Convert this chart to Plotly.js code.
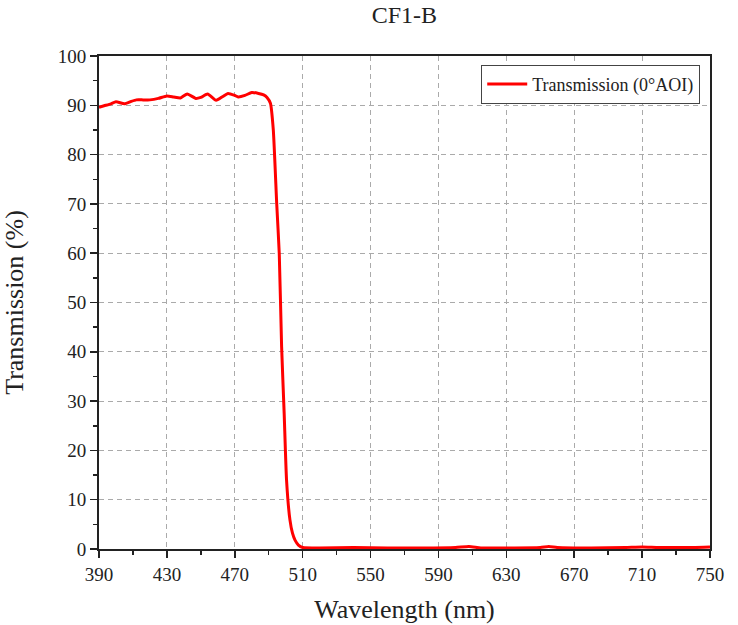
<!DOCTYPE html>
<html>
<head>
<meta charset="utf-8">
<script src="https://cdn.plot.ly/plotly-3.0.1.min.js"></script>
<style>
  html, body { margin: 0; padding: 0; background: #fff; }
  #chart { width: 738px; height: 625px; }
</style>
</head>
<body>
<div id="chart"></div>
<script>
// wavelength (nm) and transmission (%)
var wavelength = [390, 393, 397, 400, 405, 409, 412, 416, 420, 425, 430, 434, 438, 442, 447,
  450, 454, 459, 463, 466, 470, 472, 476, 480, 484, 487, 489, 491, 492.7, 494.7, 496.2,
  497.6, 499.1, 500.5, 502.5, 504, 505.5, 507.5, 510, 520, 540, 560, 580, 600, 608, 615,
  630, 650, 655, 660, 680, 700, 710, 720, 740, 750];
var transmission = [89.6, 89.9, 90.3, 90.7, 90.3, 90.8, 91.1, 91.1, 91.1, 91.4, 91.9, 91.7, 91.5, 92.3, 91.4,
  91.6, 92.3, 91.0, 91.8, 92.4, 92.0, 91.7, 92.0, 92.6, 92.4, 92.1, 91.6, 90.4, 85, 70.1, 60,
  41, 27.5, 14, 5.9, 3.2, 1.8, 0.8, 0.3, 0.2, 0.3, 0.2, 0.2, 0.3, 0.5, 0.2,
  0.2, 0.3, 0.5, 0.3, 0.2, 0.3, 0.4, 0.3, 0.3, 0.4];
var xTicks = [390, 430, 470, 510, 550, 590, 630, 670, 710, 750];

var serif = "Liberation Serif, Times New Roman, serif";

var data = [{
  x: wavelength,
  y: transmission,
  type: "scatter",
  mode: "lines",
  name: "Transmission (0°AOI)",
  line: { color: "#ff0000", width: 3, shape: "spline", smoothing: 0.5 }
}];

var layout = {
  width: 738,
  height: 625,
  margin: { l: 99, r: 28, t: 56, b: 76 },
  paper_bgcolor: "#fff",
  plot_bgcolor: "#fff",
  font: { family: serif, color: "#222", size: 19 },
  title: { text: "CF1-B", font: { family: serif, size: 24, color: "#222" },
    x: 0.548, xanchor: "center", y: 0.976, yanchor: "middle" },
  showlegend: true,
  legend: {
    x: 0.984, xanchor: "right", y: 0.982, yanchor: "top",
    bordercolor: "#444", borderwidth: 1, bgcolor: "#fff",
    itemwidth: 40,
    font: { family: serif, size: 18, color: "#222" }
  },
  xaxis: {
    range: [390, 750],
    tickvals: xTicks,
    ticks: "outside", ticklen: 7, tickwidth: 1.5, tickcolor: "#222",
    minor: { dtick: 20, tick0: 390, ticks: "outside", ticklen: 4, tickwidth: 1.5, tickcolor: "#222", showgrid: false },
    showline: true, linecolor: "#222", linewidth: 2, mirror: true,
    showgrid: true, gridcolor: "#aaa", griddash: "5px,4px", gridwidth: 1,
    zeroline: false,
    tickfont: { family: serif, size: 19, color: "#222" },
    title: { text: "Wavelength (nm)", font: { family: serif, size: 26, color: "#222" }, standoff: 16 }
  },
  yaxis: {
    range: [0, 100],
    dtick: 10,
    ticks: "outside", ticklen: 7, tickwidth: 1.5, tickcolor: "#222",
    minor: { dtick: 5, ticks: "outside", ticklen: 4, tickwidth: 1.5, tickcolor: "#222", showgrid: false },
    showline: true, linecolor: "#222", linewidth: 2, mirror: true,
    showgrid: true, gridcolor: "#aaa", griddash: "5px,4px", gridwidth: 1,
    zeroline: false,
    tickfont: { family: serif, size: 19, color: "#222" },
    title: { text: "Transmission (%)", font: { family: serif, size: 26, color: "#222" }, standoff: 27 }
  }
};

Plotly.newPlot("chart", data, layout, { displayModeBar: false, staticPlot: true });
</script>
</body>
</html>
